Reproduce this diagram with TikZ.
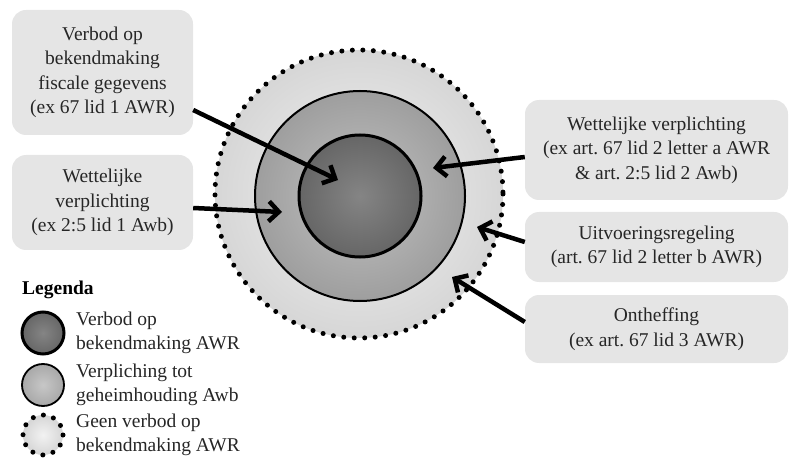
\documentclass[tikz,border=0pt]{standalone}
\usepackage{fontspec}
\setmainfont{Liberation Serif}
\usetikzlibrary{arrows.meta}
\begin{document}
\begin{tikzpicture}[x=1pt,y=-1pt,
  box/.style={fill=black!10,rounded corners=14pt,align=center,inner sep=0pt,
    font=\fontsize{19.5}{24.5}\selectfont,text=black!85},
  arr/.style={line width=4.5pt,-{Straight Barb[length=10pt,width=20pt,line width=4.5pt]}},
  dotc/.style={line width=5pt,dash pattern=on 0pt off 10.5pt,line cap=round},
  lt/.style={font=\fontsize{19.5}{24.5}\selectfont,align=left,anchor=west,text=black!85,inner sep=0pt}]
\useasboundingbox (0,0) rectangle (800,470);
% circles
\shade[inner color=black!5,outer color=black!16] (359,194) circle (144);
\draw[dotc] (359,194) circle (144);
\shade[inner color=black!24,outer color=black!38] (360,196) circle (105);
\draw[line width=2pt] (360,196) circle (105);
\shade[inner color=black!48,outer color=black!60] (360,196) circle (61);
\draw[line width=3pt] (360,196) circle (61);
\coordinate (c1) at (338,180);
\coordinate (c2) at (282,212);
\coordinate (c3) at (433,168);
\coordinate (c4) at (477,227);
\coordinate (c5) at (452,277);
% boxes
\node[box,minimum width=181,minimum height=125] (b1) at (102.5,72.5) {Verbod op\\bekendmaking\\fiscale gegevens\\(ex 67 lid 1 AWR)};
\node[box,minimum width=181,minimum height=95] (b2) at (102.5,202.5) {Wettelijke\\verplichting\\(ex 2:5 lid 1 Awb)};
\node[box,minimum width=263,minimum height=100] (b3) at (656.5,150) {Wettelijke verplichting\\(ex art.\ 67 lid 2 letter a AWR\\\& art.\ 2:5 lid 2 Awb)};
\node[box,minimum width=263,minimum height=70] (b4) at (656.5,247) {Uitvoeringsregeling\\(art.\ 67 lid 2 letter b AWR)};
\node[box,minimum width=263,minimum height=68] (b5) at (656.5,329) {Ontheffing\\(ex art.\ 67 lid 3 AWR)};
% arrows
\draw[arr] (b1.east|-0,110) -- (c1);
\draw[arr] (b2.east|-0,208) -- (c2);
\draw[arr] (b3.west|-0,157) -- (c3);
\draw[arr] (b4.west|-0,242) -- (c4);
\draw[arr] (b5.west|-0,322) -- (c5);
% legend
\node[lt,font=\fontsize{19.5}{24.5}\selectfont\bfseries,text=black] (lg) at (22,290) {Legenda};
\shade[inner color=black!48,outer color=black!60] (43,333) circle (21);
\draw[line width=3pt] (43,333) circle (21) node (l1) {};
\shade[inner color=black!22,outer color=black!34] (43,385) circle (21);
\draw[line width=1.8pt] (43,385) circle (21) node (l2) {};
\shade[inner color=black!5,outer color=black!16] (43,435) circle (20);
\draw[line width=5pt,dash pattern=on 0pt off 10.5pt,line cap=round] (43,435) circle (20) node (l3) {};
\node[lt] (t1) at (76,333) {Verbod op\\bekendmaking AWR};
\node[lt] (t2) at (76,385) {Verpliching tot\\geheimhouding Awb};
\node[lt] (t3) at (76,435) {Geen verbod op\\bekendmaking AWR};
\end{tikzpicture}
\end{document}
